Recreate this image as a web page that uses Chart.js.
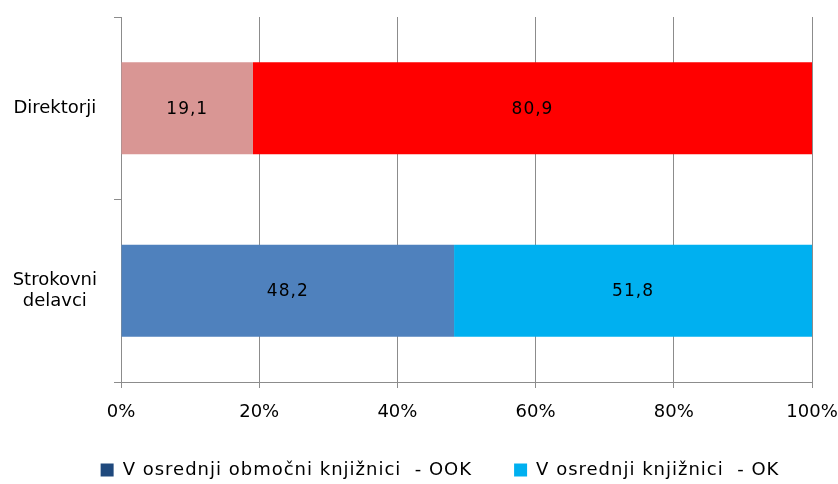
<!DOCTYPE html>
<html>
<head>
<meta charset="utf-8">
<script src="https://cdn.jsdelivr.net/npm/chart.js@4"></script>
<style>
    html, body { margin: 0; padding: 0; background: #fff; }
    #wrap { width: 838px; height: 484px; }
</style>
</head>
<body>
<div id="wrap"><canvas id="ookChart" width="838" height="484"></canvas></div>
<script>
const categories = ['Direktorji', ['Strokovni', 'delavci']];
const seriesNames = ['V osrednji območni knjižnici  - OOK', 'V osrednji knjižnici  - OK'];
const ookValues = [19.1, 48.2];
const okValues = [80.9, 51.8];
const xTicks = [0, 20, 40, 60, 80, 100];

const FONT = '"DejaVu Sans", sans-serif';
const gridGray = '#8c8c8c';

// labels in the middle of every bar segment, comma as decimal sign
const barLabels = {
    id: 'barLabels',
    afterDatasetsDraw(chart) {
        const ctx = chart.ctx;
        ctx.save();
        ctx.font = '17px ' + FONT;
        ctx.letterSpacing = '1px';
        ctx.fillStyle = '#000';
        ctx.textAlign = 'center';
        ctx.textBaseline = 'middle';
        chart.data.datasets.forEach((ds, i) => {
            chart.getDatasetMeta(i).data.forEach((bar, j) => {
                const cx = (bar.x + bar.base) / 2;
                ctx.fillText(ds.data[j].toFixed(1).replace('.', ','), cx, bar.y + 1);
            });
        });
        ctx.restore();
    }
};

// the legend text in the original is spaced out a bit and sits right of centre
const wideLegend = {
    id: 'wideLegend',
    afterInit(chart) {
        const lg = chart.legend;
        if (!lg) return;
        ['fit', 'draw'].forEach(fn => {
            const orig = lg[fn];
            lg[fn] = function (...args) {
                const c = this.ctx;
                c.save();
                c.letterSpacing = '1px';
                if (fn === 'draw') c.translate(34, 5);
                const r = orig.apply(this, args);
                c.restore();
                return r;
            };
        });
    }
};

new Chart(document.getElementById('ookChart'), {
    type: 'bar',
    data: {
        labels: categories,
        datasets: [{
            label: seriesNames[0],
            data: ookValues,
            backgroundColor: ['#D99694', '#4F81BD'],
            barPercentage: 1,
            categoryPercentage: 0.505,
        }, {
            label: seriesNames[1],
            data: okValues,
            backgroundColor: ['#FF0000', '#00B0F0'],
            barPercentage: 1,
            categoryPercentage: 0.505,
        }]
    },
    options: {
        indexAxis: 'y',
        responsive: false,
        animation: false,
        layout: { padding: { top: 17, right: 26, left: 0, bottom: 0 } },
        scales: {
            x: {
                stacked: true,
                min: 0,
                max: 100,
                afterBuildTicks: (scale) => { scale.ticks = xTicks.map(v => ({ value: v })); },
                afterFit: (scale) => { scale.height = 70; scale.paddingLeft = 0; scale.paddingRight = 0; },
                ticks: {
                    callback: (v) => v + '%',
                    color: '#000',
                    font: { family: FONT, size: 18 },
                    padding: 14,
                    maxRotation: 0,
                },
                grid: { color: gridGray, lineWidth: 1, tickLength: 6 },
                border: { color: gridGray, width: 1 },
            },
            y: {
                stacked: true,
                afterFit: (scale) => { scale.width = 121; scale.paddingTop = 0; scale.paddingBottom = 0; },
                ticks: {
                    color: '#000',
                    font: { family: FONT, size: 18 },
                    padding: 17,
                    crossAlign: 'center',
                },
                grid: { drawOnChartArea: false, color: gridGray, tickLength: 7, offset: true },
                border: { color: gridGray, width: 1 },
            }
        },
        plugins: {
            tooltip: { enabled: false },
            legend: {
                position: 'bottom',
                labels: {
                    color: '#000',
                    font: { family: FONT, size: 18 },
                    boxWidth: 13,
                    boxHeight: 13,
                    padding: 4,
                    generateLabels: () => [
                        { text: seriesNames[0] + '\u2003\u2003', fillStyle: '#1F497D', strokeStyle: '#1F497D', lineWidth: 0 },
                        { text: seriesNames[1], fillStyle: '#00B0F0', strokeStyle: '#00B0F0', lineWidth: 0 },
                    ]
                }
            }
        }
    },
    plugins: [barLabels, wideLegend]
});
</script>
</body>
</html>
